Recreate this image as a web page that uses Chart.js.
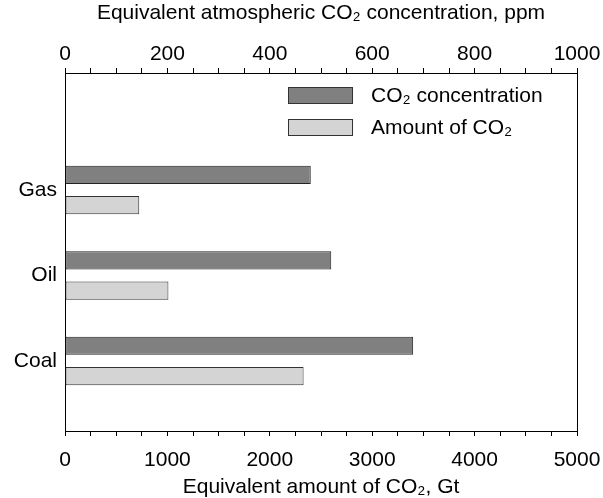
<!DOCTYPE html>
<html>
<head>
<meta charset="utf-8">
<script src="https://cdn.jsdelivr.net/npm/chart.js@4.4.0/dist/chart.umd.min.js"></script>
<style>
  html, body { margin: 0; padding: 0; background: #fff; }
  #wrap { width: 603px; height: 498px; }
</style>
</head>
<body>
<div id="wrap"><canvas id="co2Chart"></canvas></div>
<script>
// Data
const categories    = ["Gas", "Oil", "Coal"];
const concentration = [480, 520, 680];     // ppm, top axis
const amount        = [725, 1010, 2330];   // Gt, bottom axis
const ppmTicks      = [0, 200, 400, 600, 800, 1000];
const gtTicks       = [0, 1000, 2000, 3000, 4000, 5000];

const FONT = "'Liberation Sans', Arial, Helvetica, sans-serif";
const FS = 21;
const darkFill  = "#808080";
const lightFill = "#d4d4d4";

// fixed box sizes so the plot frame lands where the reference has it
const fixW = w => scale => { scale.width = w; };
const fixH = h => scale => {
  scale.height = h;
  scale.paddingLeft = 0;   // let the end labels overhang, like the reference
  scale.paddingRight = 0;
};

// legend drawn inside the plot, top right
const insideLegend = {
  id: "insideLegend",
  afterDraw(chart) {
    const { ctx, chartArea } = chart;
    ctx.save();
    chart.data.datasets.forEach((ds, i) => {
      const bx = chartArea.left + 223, by = chartArea.top + 14 + i * 32;
      ctx.fillStyle = ds.backgroundColor;
      ctx.fillRect(bx, by, 64, 16);
      ctx.strokeStyle = "#333";
      ctx.lineWidth = 1;
      ctx.strokeRect(bx + 0.5, by + 0.5, 64, 16);
      ctx.fillStyle = "#000";
      ctx.font = FS + "px " + FONT;
      ctx.textBaseline = "middle";
      ctx.fillText(ds.label, bx + 83, by + 9);
    });
    ctx.restore();
  }
};

new Chart(document.getElementById("co2Chart"), {
  type: "bar",
  data: {
    datasets: [
      {
        label: "CO\u2082 concentration",
        data: categories.map((c, i) => ({ x: concentration[i], y: i })),
        xAxisID: "x", yAxisID: "y",
        backgroundColor: darkFill, borderColor: "#222", borderWidth: 1, borderSkipped: false
      },
      {
        label: "Amount of CO\u2082",
        data: categories.map((c, i) => ({ x: amount[i], y: i })),
        xAxisID: "x2", yAxisID: "y",
        backgroundColor: lightFill, borderColor: "#333", borderWidth: 1, borderSkipped: false
      }
    ]
  },
  options: {
    indexAxis: "y",
    responsive: true,
    maintainAspectRatio: false,
    animation: false,
    categoryPercentage: 0.71,
    barPercentage: 0.6,
    layout: { padding: 0 },
    plugins: { legend: { display: false }, tooltip: { enabled: false } },
    scales: {
      x: {
        type: "linear", position: "top", min: 0, max: 1000,
        afterFit: fixH(73),
        ticks: {
          stepSize: 50, autoSkip: false, maxRotation: 0, padding: 1, color: "#000",
          font: { size: FS, family: FONT },
          callback: v => ppmTicks.includes(v) ? String(v) : ""
        },
        grid: { drawOnChartArea: false, drawTicks: true, tickLength: 5, color: "#000" },
        border: { color: "#000", width: 1 },
        title: {
          display: true, text: "Equivalent atmospheric CO\u2082 concentration, ppm",
          color: "#000", font: { size: FS, family: FONT, lineHeight: 1 }, padding: { top: 3, bottom: 0 }
        }
      },
      x2: {
        type: "linear", position: "bottom", min: 0, max: 5000,
        afterFit: fixH(67),
        ticks: {
          stepSize: 250, autoSkip: false, maxRotation: 0, padding: 12, color: "#000",
          font: { size: FS, family: FONT },
          callback: v => gtTicks.includes(v) ? String(v) : ""
        },
        grid: { drawOnChartArea: false, drawTicks: true, tickLength: 5, color: "#000" },
        border: { color: "#000", width: 1 },
        title: {
          display: true, text: "Equivalent amount of CO\u2082, Gt",
          color: "#000", font: { size: FS, family: FONT, lineHeight: 1 }, padding: { top: 0, bottom: 0 }
        }
      },
      y: {
        type: "linear", position: "left", reverse: true, min: -1.37, max: 2.82,
        offset: false,
        afterFit: fixW(65),
        ticks: {
          stepSize: 1, includeBounds: false, autoSkip: false, padding: 8, color: "#000",
          font: { size: FS, family: FONT },
          callback: v => (Number.isInteger(v) && categories[v]) ? categories[v] : ""
        },
        grid: { offset: false, drawOnChartArea: false, drawTicks: false },
        border: { color: "#000", width: 1 }
      },
      y2: {
        type: "linear", position: "right",
        afterFit: fixW(26),
        ticks: { display: false },
        grid: { drawOnChartArea: false, drawTicks: false },
        border: { color: "#000", width: 1 }
      }
    }
  },
  plugins: [insideLegend]
});
</script>
</body>
</html>
